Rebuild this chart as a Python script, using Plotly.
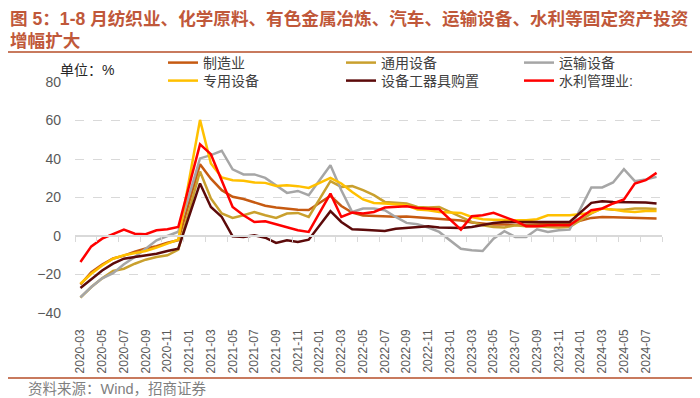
import plotly.graph_objects as go

# ---------------- data ----------------
months = []
for y in range(2020, 2025):
    for m in range(1, 13):
        if (y == 2020 and m < 3) or (y == 2024 and m > 8):
            continue
        months.append(f"{y}-{m:02d}")

tick_labels = months[::2]

manufacturing = [-25.2, -18.8, -14.8, -11.7, -10.2, -8.1, -6.5, -5.3, -3.5, -2.2,
                 None, 37.3, 29.8, 23.8, 20.4, 19.2, 17.3, 15.7, 14.8, 14.2, 13.7, 13.5,
                 None, 20.9, 15.6, 12.2, 10.6, 10.4, 9.9, 10.0, 10.1, 9.7, 9.3, 9.1,
                 None, 8.1, 7.0, 6.4, 6.0, 6.0, 5.7, 5.9, 6.2, 6.2, 6.3, 6.5,
                 None, 9.4, 9.9, 9.7, 9.6, 9.5, 9.3, 9.1]

general_equip = [-32.0, -26.5, -22.0, -18.2, -17.0, -14.4, -12.3, -10.9, -10.0, -7.1,
                 None, 33.5, 19.5, 11.7, 9.4, 10.8, 12.5, 10.8, 9.4, 11.7, 12.0, 9.9,
                 None, 28.5, 25.5, 25.9, 23.8, 21.2, 17.7, 17.2, 16.9, 15.1, 14.8, 15.1,
                 None, 9.9, 7.3, 5.6, 4.7, 4.4, 5.6, 5.1, 5.1, 4.7, 4.4, 4.7,
                 None, 11.7, 14.3, 13.7, 13.7, 14.3, 14.3, 14.0]

transport_equip = [-31.8, -26.5, -22.0, -19.3, -14.7, -10.9, -6.6, -2.2, 0.0, 2.2,
                   None, 40.3, 42.0, 44.3, 34.6, 32.0, 32.0, 30.2, 26.4, 22.4, 23.4, 21.2,
                   None, 36.8, 23.8, 12.5, 14.3, 14.3, 13.4, 9.9, 6.8, 6.1, 4.4, 2.1,
                   None, -6.6, -7.4, -7.8, -1.4, 2.5, -0.5, -0.5, 3.5, 2.1, 3.0, 3.3,
                   None, 25.2, 25.2, 27.8, 34.7, 28.5, 29.4, 30.7]

special_equip = [-24.8, -19.6, -15.3, -11.8, -10.0, -8.8, -7.8, -6.0, -4.0, -1.9,
                 None, 60.3, 37.7, 30.4, 29.0, 28.7, 27.8, 27.6, 26.0, 26.4, 25.9, 25.0,
                 None, 30.2, 27.3, 22.9, 19.0, 17.2, 16.9, 16.5, 16.0, 13.7, 13.4, 12.5,
                 None, 12.0, 9.9, 8.7, 8.5, 8.2, 8.2, 8.2, 8.7, 10.8, 10.8, 10.8,
                 None, 12.0, 14.3, 13.7, 12.9, 12.5, 13.0, 13.0]

equip_purchase = [-27.0, -22.2, -17.9, -14.4, -11.8, -10.9, -10.0, -9.2, -7.8, -6.6,
                  None, 27.3, 15.1, 9.9, -0.2, -0.5, 0.4, -0.9, -3.6, -2.2, -3.1, -1.9,
                  None, 12.9, 7.3, 3.5, 3.3, 3.0, 2.6, 3.8, 4.2, 4.7, 5.1, 4.4,
                  None, 4.2, 4.7, 5.6, 6.8, 7.3, 7.3, 7.3, 7.3, 7.3, 7.3, 7.3,
                  None, 17.2, 18.1, 17.7, 17.7, 17.7, 17.4, 16.9]

water_mgmt = [-13.5, -5.4, -1.4, 0.9, 3.3, 1.2, 0.9, 3.0, 3.5, 4.7,
              None, 47.6, 42.5, 29.0, 15.1, 10.8, 7.3, 7.6, 6.1, 4.2, 3.0, 2.1,
              None, 22.0, 9.9, 12.2, 11.7, 12.5, 14.8, 15.1, 15.5, 14.6, 14.3, 13.9,
              None, 3.3, 10.3, 10.8, 12.0, 9.9, 7.8, 5.1, 5.1, 5.6, 5.6, 5.6,
              None, 13.4, 14.3, 16.9, 19.0, 27.3, 29.0, 32.8]

series_names = ["制造业", "通用设备", "运输设备", "专用设备", "设备工器具购置", "水利管理业:"]
series_values = [manufacturing, general_equip, transport_equip,
                 special_equip, equip_purchase, water_mgmt]
series_colors = ["#C65A11", "#C9A02E", "#A6A6A6", "#FFC000", "#5C0A0A", "#FF0000"]
# legend row of each series (2 rows x 3 columns, as in the reference)
series_legend = ["legend", "legend", "legend", "legend2", "legend2", "legend2"]

y_ticks = [-40, -20, 0, 20, 40, 60, 80]

# ---------------- layout geometry ----------------
# the page body adds an 8px offset; positions below are given in page pixels
OFF = 8
W, H = 700, 398
ML, MR, MT, MB = 75 - OFF, 700 - (662 - OFF), 82 - OFF, 398 - (313 - OFF)
PW, PH = W - ML - MR, H - MT - MB
YMIN, YMAX = -40, 80


def px(x):
    return (x - OFF - ML) / PW


def py(y):
    return (H - MB - (y - OFF)) / PH


FONT = "Liberation Sans, Noto Sans CJK SC, sans-serif"

fig = go.Figure()
for name, vals, col, lg in zip(series_names, series_values, series_colors, series_legend):
    fig.add_trace(go.Scatter(x=months, y=vals, name=name, mode="lines", legend=lg,
                             line=dict(color=col, width=2.5), connectgaps=True))

# dummy trace to carry the axis at y = 0 (tick marks)
fig.add_trace(go.Scatter(x=[0], y=[None], xaxis="x2", yaxis="y",
                         showlegend=False, hoverinfo="skip", mode="lines"))


def legend_row(ypix):
    return dict(orientation="h", x=px(163), y=py(ypix), xanchor="left", yanchor="middle",
                entrywidth=133, entrywidthmode="pixels",
                font=dict(size=14, color="#404040", family=FONT),
                bgcolor="rgba(0,0,0,0)", itemwidth=30, tracegroupgap=0,
                traceorder="normal")


fig.update_layout(
    width=W, height=H,
    margin=dict(l=ML, r=MR, t=MT, b=MB, autoexpand=False),
    paper_bgcolor="white", plot_bgcolor="white",
    font=dict(family=FONT, color="#404040", size=14),
    showlegend=True,
    legend=legend_row(63),
    legend2=legend_row(81),
    xaxis=dict(type="category", range=[-0.5, len(months) - 0.5],
               tickmode="array", tickvals=tick_labels, ticktext=tick_labels,
               tickangle=-90, tickfont=dict(size=12, color="#595959"),
               showgrid=False, showline=False, zeroline=False, ticks="",
               ticklabelstandoff=13),
    xaxis2=dict(overlaying="x", anchor="free",
                position=(0 - YMIN) / (YMAX - YMIN), type="linear",
                range=[-0.5, len(months) - 0.5], tick0=-0.5, dtick=2,
                ticks="outside", ticklen=5, tickcolor="#D9D9D9", tickwidth=1,
                showticklabels=False, showgrid=False, zeroline=False,
                showline=True, linecolor="#D9D9D9", linewidth=1.5),
    yaxis=dict(range=[YMIN, YMAX], tickmode="array", tickvals=y_ticks,
               tickfont=dict(size=14, color="#595959"),
               showgrid=True, gridcolor="#D9D9D9", griddash="dash", gridwidth=1,
               zeroline=False, showline=False, ticks="", ticklabelstandoff=13),
)

TITLE_COLOR = "#C0583A"
RULE_COLOR = "#C87A5E"

fig.add_annotation(text="<b>图 5：1-8 月纺织业、化学原料、有色金属冶炼、汽车、运输设备、水利等固定资产投资</b>",
                   xref="paper", yref="paper", x=px(8), y=py(19), xanchor="left", yanchor="middle",
                   showarrow=False, font=dict(size=17.6, color=TITLE_COLOR, family=FONT))
fig.add_annotation(text="<b>增幅扩大</b>",
                   xref="paper", yref="paper", x=px(8), y=py(41), xanchor="left", yanchor="middle",
                   showarrow=False, font=dict(size=17.6, color=TITLE_COLOR, family=FONT))
fig.add_annotation(text="单位：%", xref="paper", yref="paper", x=px(58), y=py(70),
                   xanchor="left", yanchor="middle", showarrow=False,
                   font=dict(size=14, color="#262626", family=FONT))
fig.add_annotation(text="资料来源：Wind，招商证券", xref="paper", yref="paper", x=px(26), y=py(389),
                   xanchor="left", yanchor="middle", showarrow=False,
                   font=dict(size=14.5, color="#7F7F7F", family=FONT))

fig.add_shape(type="line", xref="paper", yref="paper", x0=px(8), x1=px(692),
              y0=py(52), y1=py(52), line=dict(color=RULE_COLOR, width=2))
fig.add_shape(type="line", xref="paper", yref="paper", x0=px(8), x1=px(692),
              y0=py(378), y1=py(378), line=dict(color=RULE_COLOR, width=2))

fig.write_html("out.html")
